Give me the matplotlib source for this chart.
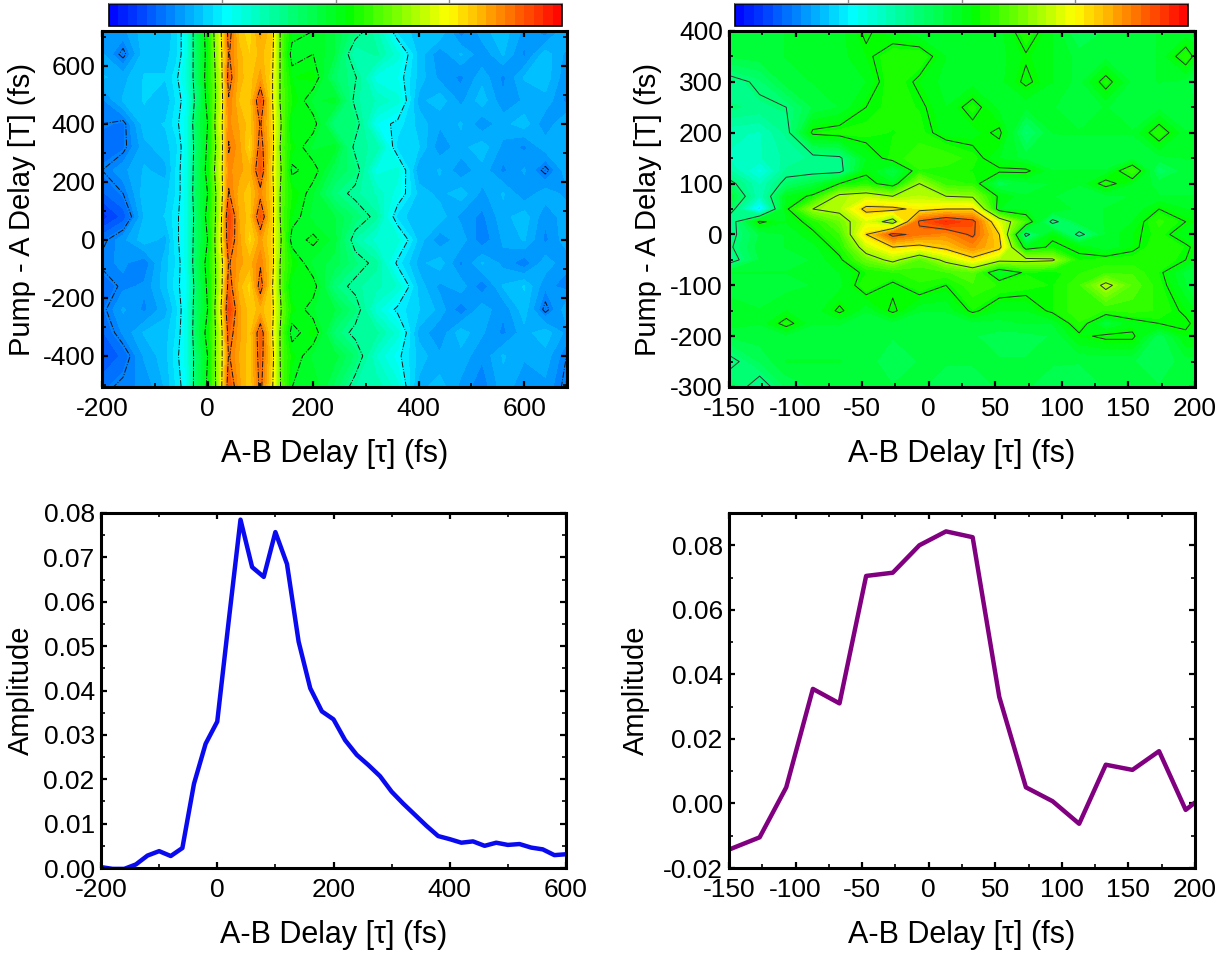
# %%
import numpy as np
from matplotlib import pyplot as plt
from matplotlib.colors import LinearSegmentedColormap
from matplotlib.ticker import MultipleLocator

plt.rcParams['font.family'] = ['Liberation Sans', 'DejaVu Sans']
plt.rcParams['axes.unicode_minus'] = False

FIG_W = 1231
FIG_H = 957

# left map, values in percent of the colour scale
mapLeftX = [-200, -160, -120, -80, -60, -40, -20, 0, 20, 40, 60, 80, 100, 120, 140, 160, 200, 240, 280,
            320, 360, 400, 440, 480, 520, 560, 600, 640, 680]
mapLeftY = [720, 640, 560, 480, 400, 320, 240, 160, 80, 0, -80, -160, -240, -320, -400, -510]
mapLeftZ = [
    [15, 16, 20, 19, 22, 28, 43, 53, 69, 90, 80, 78, 84, 80, 60, 52, 50, 46, 40, 34, 22, 20, 21, 13, 18, 20, 16, 13, 19],
    [17, 12, 20, 20, 22, 28, 43, 52, 68, 88, 82, 79, 82, 79, 60, 48, 50, 46, 33, 36, 30, 20, 15, 19, 15, 19, 14, 20, 16],
    [19, 18, 21, 21, 24, 30, 42, 53, 66, 90, 82, 80, 84, 78, 60, 52, 53, 42, 38, 28, 27, 20, 16, 14, 18, 14, 19, 20, 15],
    [14, 19, 21, 19, 23, 27, 41, 52, 66, 87, 81, 80, 92, 78, 60, 54, 47, 49, 36, 33, 30, 18, 20, 16, 20, 15, 17, 18, 14],
    [13, 12, 20, 21, 24, 28, 44, 50, 68, 86, 83, 80, 88, 79, 62, 50, 52, 40, 40, 27, 24, 20, 17, 19, 15, 18, 20, 15, 19],
    [11, 12, 18, 20, 22, 28, 42, 51, 66, 88, 84, 78, 90, 80, 60, 53, 47, 49, 36, 35, 22, 21, 15, 18, 20, 16, 14, 18, 17],
    [13, 16, 19, 18, 23, 28, 43, 52, 68, 86, 84, 82, 92, 78, 62, 49, 52, 44, 40, 28, 30, 17, 19, 15, 18, 14, 17, 12, 18],
    [10, 13, 20, 20, 23, 28, 44, 50, 66, 88, 82, 80, 86, 80, 60, 54, 48, 40, 36, 33, 28, 20, 18, 20, 16, 19, 15, 18, 16],
    [5, 9, 19, 21, 24, 28, 42, 52, 66, 94, 83, 80, 92, 80, 60, 52, 47, 46, 41, 36, 22, 19, 20, 16, 14, 18, 20, 15, 18],
    [12, 16, 20, 18, 24, 28, 43, 50, 68, 92, 84, 78, 84, 79, 62, 48, 51, 47, 35, 30, 30, 20, 15, 18, 13, 17, 19, 14, 18],
    [14, 15, 13, 20, 23, 28, 44, 52, 66, 88, 84, 82, 87, 80, 60, 54, 47, 45, 40, 36, 24, 18, 20, 14, 19, 16, 13, 18, 15],
    [10, 14, 15, 20, 24, 27, 42, 51, 66, 90, 82, 78, 90, 78, 60, 50, 52, 40, 36, 34, 31, 20, 16, 18, 13, 19, 21, 15, 14],
    [12, 17, 14, 18, 22, 28, 43, 50, 68, 94, 84, 80, 82, 79, 62, 53, 48, 46, 40, 30, 24, 21, 18, 13, 18, 15, 20, 12, 18],
    [10, 15, 19, 20, 23, 28, 44, 52, 66, 90, 84, 80, 91, 78, 60, 48, 53, 41, 36, 36, 30, 18, 15, 20, 17, 14, 18, 20, 16],
    [8, 11, 17, 20, 24, 28, 42, 50, 67, 88, 83, 80, 90, 80, 60, 53, 47, 47, 41, 31, 26, 20, 17, 18, 15, 19, 17, 18, 13],
    [12, 14, 15, 19, 23, 27, 43, 51, 66, 92, 84, 79, 89, 78, 61, 50, 50, 43, 35, 35, 30, 18, 20, 16, 13, 18, 15, 16, 12],
]
mapLeftLevels = [13, 25, 37.5, 50, 62.5, 75, 87.5]

# right map
mapRightX = [-150, -127, -107, -87, -67, -47, -27, -7, 13, 33, 53, 73, 93, 113, 133, 153, 173, 193, 200]
mapRightY = [400, 350, 300, 250, 200, 150, 125, 100, 75, 50, 25, 0, -25, -50, -75, -100, -150, -175, -200, -250, -300]
mapRightZ = [
    [47, 47, 48, 48, 49, 54, 50, 48, 48, 49, 49, 56, 50, 43, 46, 47, 48, 48, 48],
    [46, 47, 48, 48, 49, 52, 56, 56, 50, 49, 49, 52.5, 50, 47, 47, 47, 48, 56, 52],
    [38, 41, 47, 48, 49, 50, 56, 52, 49, 49, 49, 54, 50, 47, 55, 47, 48, 47, 42],
    [40, 39, 40, 46, 48, 53, 55, 54, 50, 55, 49, 48, 48, 47, 48, 47, 47, 47, 47],
    [34, 33, 38, 54, 55, 55, 54, 55, 51, 51, 54, 41, 48, 48, 48, 48, 56, 48, 48],
    [33, 33, 36, 38, 39, 50, 55, 58, 58, 55, 50, 47, 46, 47, 47, 47, 47, 48, 48],
    [36, 28, 38, 38, 38, 52, 45, 56, 55, 54, 54, 54, 48, 48, 48, 58, 42, 47, 47],
    [42, 33, 42, 46, 53, 55, 50, 66, 57, 56, 44, 47, 48, 48, 55, 50, 47, 47, 47],
    [48, 33, 50, 54, 68, 70, 66, 69, 66, 65, 52, 48, 48, 47, 47, 48, 48, 48, 48],
    [44, 23, 52, 66, 68, 80, 80, 76, 78, 78, 50, 49, 50, 47, 48, 48, 53, 50, 50],
    [36, 54, 50, 55, 62, 72, 62, 91, 96, 92, 72, 58, 38, 47, 48, 50, 57, 53, 52],
    [38, 46, 48, 52, 58, 78, 92, 88, 86, 91, 78, 38, 52, 38, 48, 52, 55, 50, 50],
    [39, 47, 48, 49, 55, 70, 78, 76, 80, 86, 80, 50, 54, 52, 48, 52, 56, 54, 52],
    [37, 46, 47, 48, 52, 62, 68, 60, 68, 76, 68, 68, 67, 54, 55, 55, 56, 53, 50],
    [48, 48, 48, 48, 50, 54, 56, 57, 58, 60, 48, 54, 53, 56, 58, 58, 54, 47, 46],
    [46, 47, 47, 48, 49, 56, 52, 56, 53, 58, 56, 55, 54, 58, 68, 60, 55, 48, 44],
    [50, 48, 50, 48, 54, 48, 54, 48, 48, 54, 50, 50, 54, 58, 56, 57, 56, 52, 50],
    [49, 48, 55, 48, 48, 47, 47, 47, 47, 47, 47, 48, 48, 56, 46, 51, 53, 54, 52],
    [46, 47, 47, 47, 47, 46, 46, 46, 46, 46, 45, 45, 46, 52, 54, 54, 44, 52, 52],
    [38, 44, 48, 48, 48, 47, 44, 46, 46, 46, 46, 46, 46, 46, 46, 46, 44, 47, 47],
    [44, 37, 44, 46, 46, 46, 46, 46, 45, 45, 46, 46, 45, 44, 46, 46, 46, 46, 46],
]
mapRightLevels = [40, 53, 66, 78, 90]

# line cuts
cutLeftX = [-200, -180, -160, -140, -120, -100, -80, -60, -40, -20, 0, 20, 40, 60, 80, 100, 120, 140, 160, 180,
            200, 220, 240, 260, 280, 300, 320, 340, 360, 380, 400, 420, 440, 460, 480, 500, 520, 540, 560, 580, 600]
cutLeftY = [0.0002, -0.0002, -0.0002, 0.0008, 0.0028, 0.0038, 0.0027, 0.0045, 0.019, 0.028, 0.033, 0.056, 0.0785,
            0.0678, 0.0656, 0.0757, 0.0685, 0.051, 0.0405, 0.0353, 0.0335, 0.0288, 0.0255, 0.0232, 0.0207, 0.0172,
            0.0145, 0.012, 0.0095, 0.0072, 0.0065, 0.0057, 0.006, 0.005, 0.0057, 0.0052, 0.0054, 0.0046, 0.0042,
            0.0029, 0.0031]
cutRightX = [-150, -127, -107, -87, -67, -47, -27, -7, 13, 33, 53, 73, 93, 113, 133, 153, 173, 193, 200]
cutRightY = [-0.0143, -0.0105, 0.005, 0.0355, 0.031, 0.0705, 0.0715, 0.08, 0.0843, 0.0825, 0.033, 0.005, 0.0007,
             -0.0063, 0.012, 0.0104, 0.0162, -0.002, 0.0003]

AB_LABEL = "A-B Delay [\u03c4] (fs)"
PUMP_LABEL = "Pump - A Delay [T] (fs)"
X_LABEL_SIZE = 22
Y_LABEL_SIZE = 21

rainbow = LinearSegmentedColormap.from_list(
    "rainbow5", [(0, "#0000ff"), (0.26, "#00ffff"), (0.53, "#00ff00"), (0.75, "#ffff00"), (1, "#ff0000")])
fillLevels = np.linspace(0, 100, 49)


def makeAxes(fig, left, top, right, bottom):
    # pixel box -> figure fractions
    return fig.add_axes([left / FIG_W, 1 - bottom / FIG_H, (right - left) / FIG_W, (bottom - top) / FIG_H])


def styleAxes(ax, xMajor, xMinor, yMajor, yMinor):
    ax.xaxis.set_major_locator(MultipleLocator(xMajor))
    ax.xaxis.set_minor_locator(MultipleLocator(xMinor))
    ax.yaxis.set_major_locator(MultipleLocator(yMajor))
    ax.yaxis.set_minor_locator(MultipleLocator(yMinor))
    ax.tick_params(which='major', direction='in', top=True, right=True, length=4.5, width=1.6, labelsize=19)
    ax.tick_params(which='minor', direction='in', top=True, right=True, length=3, width=1.2)
    ax.tick_params(axis='x', which='major', pad=7)
    ax.tick_params(axis='y', which='major', pad=4.5)
    for spine in ax.spines.values():
        spine.set_linewidth(2.2)


def setLabels(ax, xText, yText, yCoord):
    ax.set_xlabel(xText, fontsize=X_LABEL_SIZE)
    ax.set_ylabel(yText, fontsize=Y_LABEL_SIZE)
    ax.xaxis.set_label_coords(0.5, -0.146)
    ax.yaxis.set_label_coords(yCoord, 0.5)


def drawMap(fig, box, xs, ys, zs, levels, lineStyle, lineColor):
    ax = makeAxes(fig, *box)
    grid = np.flipud(np.array(zs, dtype=float))
    yAsc = ys[::-1]
    filled = ax.contourf(xs, yAsc, grid, levels=fillLevels, cmap=rainbow)
    ax.contour(xs, yAsc, grid, levels=levels, colors=lineColor, linewidths=0.7, linestyles=lineStyle)
    return ax, filled


def drawBar(fig, left, right, filled):
    cax = makeAxes(fig, left, 3.5, right, 26)
    bar = fig.colorbar(filled, cax=cax, orientation='horizontal')
    bar.set_ticks([])
    bar.ax.minorticks_off()
    bar.outline.set_linewidth(1.2)
    # leftover scale above the bar, cut by the page edge
    top = makeAxes(fig, left, 0, right, 3)
    top.set_xlim(0, 1)
    top.set_yticks([])
    top.set_xticks([0.25, 0.5, 0.75])
    top.tick_params(axis='x', direction='in', length=4, width=1, color='#8a8a8a', labelbottom=False)
    for name, spine in top.spines.items():
        spine.set_visible(name == 'bottom')
        spine.set_color('#8a8a8a')


fig = plt.figure(figsize=(FIG_W / 100, FIG_H / 100), dpi=100)

# %% top left
ax, filled = drawMap(fig, (102, 31, 567, 387), mapLeftX, mapLeftY, mapLeftZ, mapLeftLevels, 'dashdot', '#111111')
ax.set_xlim(-200, 681)
ax.set_ylim(-507, 720)
styleAxes(ax, 200, 100, 200, 100)
setLabels(ax, AB_LABEL, PUMP_LABEL, -0.142)
drawBar(fig, 109, 562, filled)

# %% top right
ax, filled = drawMap(fig, (729, 31, 1195, 387), mapRightX, mapRightY, mapRightZ, mapRightLevels, 'solid', '#333333')
ax.set_xlim(-150, 200)
ax.set_ylim(-300, 400)
styleAxes(ax, 50, 25, 100, 50)
setLabels(ax, AB_LABEL, PUMP_LABEL, -0.144)
drawBar(fig, 735, 1188, filled)

# %% bottom left
ax = makeAxes(fig, 101, 513, 566, 868)
ax.plot(cutLeftX, cutLeftY, color="#0a0af0", linewidth=3.2)
ax.set_xlim(-200, 600)
ax.set_ylim(0, 0.08)
styleAxes(ax, 200, 100, 0.01, 0.005)
ax.yaxis.set_major_formatter('{x:.2f}')
setLabels(ax, AB_LABEL, "Amplitude", -0.142)

# %% bottom right
ax = makeAxes(fig, 729, 513, 1195, 868)
ax.plot(cutRightX, cutRightY, color="#800080", linewidth=3.2)
ax.set_xlim(-150, 200)
ax.set_ylim(-0.02, 0.09)
styleAxes(ax, 50, 25, 0.02, 0.01)
ax.yaxis.set_major_formatter('{x:.2f}')
setLabels(ax, AB_LABEL, "Amplitude", -0.17)

plt.savefig("out.png", dpi=100)
plt.close()
